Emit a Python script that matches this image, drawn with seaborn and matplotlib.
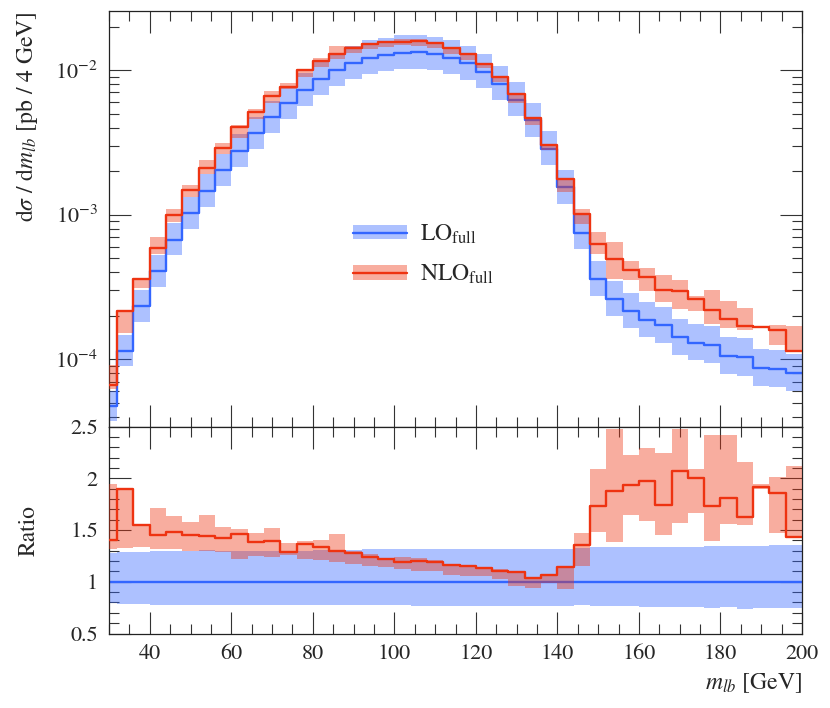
import numpy as np
import matplotlib
matplotlib.use("Agg")
import matplotlib.pyplot as plt
import seaborn as sns
from matplotlib.patches import Patch
from matplotlib.lines import Line2D
from matplotlib.ticker import MultipleLocator, LogLocator, NullFormatter, FuncFormatter

# ---------------- data ----------------
bin_edges = [28, 32, 36, 40, 44, 48, 52, 56, 60, 64, 68, 72, 76, 80, 84, 88, 92, 96,
             100, 104, 108, 112, 116, 120, 124, 128, 132, 136, 140, 144, 148, 152,
             156, 160, 164, 168, 172, 176, 180, 184, 188, 192, 196, 200]

# LO central value  [pb / 4 GeV]
lo_central = [4.73e-5, 1.14e-4, 2.33e-4, 4.06e-4, 6.71e-4, 1.023e-3, 1.46e-3, 2.03e-3,
              2.76e-3, 3.67e-3, 4.73e-3, 5.91e-3, 7.31e-3, 8.69e-3, 1.00e-2, 1.122e-2,
              1.219e-2, 1.273e-2, 1.319e-2, 1.327e-2, 1.292e-2, 1.219e-2, 1.114e-2,
              9.77e-3, 8.03e-3, 6.24e-3, 4.49e-3, 2.85e-3, 1.545e-3, 7.46e-4, 3.61e-4,
              2.62e-4, 2.15e-4, 1.87e-4, 1.72e-4, 1.43e-4, 1.305e-4, 1.257e-4, 1.055e-4,
              1.04e-4, 8.73e-5, 8.55e-5, 8.02e-5]

# LO scale band relative to LO central
lo_band_hi = [1.28, 1.285, 1.29, 1.295, 1.30, 1.30, 1.305, 1.30, 1.30, 1.30, 1.30, 1.30,
              1.30, 1.305, 1.31, 1.31, 1.315, 1.315, 1.315, 1.315, 1.32, 1.32, 1.32, 1.32,
              1.32, 1.32, 1.32, 1.32, 1.32, 1.324, 1.333, 1.333, 1.337, 1.34, 1.34, 1.337,
              1.34, 1.343, 1.343, 1.35, 1.35, 1.356, 1.356]
lo_band_lo = [0.79, 0.786, 0.783, 0.78, 0.78, 0.78, 0.777, 0.777, 0.777, 0.777, 0.775,
              0.775, 0.775, 0.775, 0.775, 0.772, 0.772, 0.772, 0.772, 0.77, 0.77, 0.77,
              0.77, 0.77, 0.77, 0.77, 0.77, 0.77, 0.77, 0.773, 0.764, 0.761, 0.761, 0.757,
              0.757, 0.754, 0.757, 0.751, 0.754, 0.741, 0.751, 0.748, 0.748]

# NLO / LO ratio and NLO scale band relative to LO central
ratio_nlo = [1.405, 1.90, 1.544, 1.447, 1.485, 1.45, 1.44, 1.427, 1.46, 1.388, 1.395,
             1.288, 1.36, 1.337, 1.297, 1.275, 1.24, 1.22, 1.194, 1.204, 1.188, 1.162,
             1.152, 1.133, 1.107, 1.09, 1.039, 1.065, 1.139, 1.353, 1.728, 1.88, 1.932,
             1.977, 1.741, 2.068, 2.003, 1.735, 1.806, 1.625, 1.913, 1.86, 1.43]
nlo_band_hi = [1.945, 1.91, 1.555, 1.715, 1.638, 1.576, 1.644, 1.53, 1.51, 1.47, 1.518,
               1.375, 1.39, 1.40, 1.463, 1.30, 1.265, 1.233, 1.236, 1.227, 1.21, 1.168,
               1.16, 1.142, 1.12, 1.10, 1.05, 1.075, 1.15, 1.469, 2.09, 2.48, 2.22, 2.294,
               2.24, 2.48, 2.094, 2.414, 2.414, 2.16, 1.945, 2.013, 2.12]
nlo_band_lo = [1.32, 1.33, 1.34, 1.314, 1.32, 1.30, 1.30, 1.29, 1.223, 1.25, 1.243, 1.26,
               1.223, 1.214, 1.188, 1.175, 1.15, 1.14, 1.123, 1.107, 1.107, 1.065, 1.06,
               1.055, 1.026, 0.955, 0.935, 0.984, 0.93, 1.155, 1.479, 1.38, 1.647, 1.583,
               1.456, 1.566, 1.663, 1.395, 1.56, 1.544, 1.90, 1.47, 1.42]

labels = [r"LO$_{\mathrm{full}}$", r"NLO$_{\mathrm{full}}$"]

# ---------------- style ----------------
sns.set_style("ticks")
plt.rcParams["font.family"] = ["STIXGeneral", "DejaVu Serif"]
plt.rcParams["mathtext.fontset"] = "stix"
plt.rcParams["axes.linewidth"] = 0.9

C_LO = "#3366FF"
C_NLO = "#EE3311"
BAND_ALPHA = 0.4
LW = 1.7

edges = np.array(bin_edges, dtype=float)
lo = np.array(lo_central)


def ext(a):
    a = np.asarray(a, dtype=float)
    return np.append(a, a[-1])


fig = plt.figure(figsize=(8.30, 7.08), dpi=100)
ax = fig.add_axes([109 / 830, 1 - 426.5 / 708, 693 / 830, 415.5 / 708])
axr = fig.add_axes([109 / 830, 1 - 633.5 / 708, 693 / 830, 207 / 708], sharex=ax)

# ---------------- main panel ----------------
ax.set_yscale("log")
ax.fill_between(edges, ext(lo * np.array(lo_band_lo)), ext(lo * np.array(lo_band_hi)),
                step="post", color=C_LO, alpha=BAND_ALPHA, lw=0, zorder=1)
sns.lineplot(x=edges, y=ext(lo), drawstyle="steps-post", color=C_LO, lw=LW,
             estimator=None, sort=False, ax=ax, zorder=2)
nlo = lo * np.array(ratio_nlo)
ax.fill_between(edges, ext(lo * np.array(nlo_band_lo)), ext(lo * np.array(nlo_band_hi)),
                step="post", color=C_NLO, alpha=BAND_ALPHA, lw=0, zorder=3)
sns.lineplot(x=edges, y=ext(nlo), drawstyle="steps-post", color=C_NLO, lw=LW,
             estimator=None, sort=False, ax=ax, zorder=4)

ax.set_xlim(30, 200)
ax.set_ylim(3.43e-5, 0.0256)
ax.yaxis.set_major_locator(LogLocator(base=10, numticks=20))
ax.yaxis.set_minor_locator(LogLocator(base=10, subs=np.arange(2, 10), numticks=100))
ax.yaxis.set_minor_formatter(NullFormatter())
ax.xaxis.set_major_locator(MultipleLocator(20))
ax.xaxis.set_minor_locator(MultipleLocator(5))
ax.tick_params(axis="x", labelbottom=False)
ax.set_ylabel(r"d$\sigma$ / d$m_{lb}$ [pb / 4 GeV]", fontsize=17, loc="top")
ax.yaxis.set_label_coords(-0.10, 1.0)

h_lo = (Patch(facecolor=C_LO, alpha=BAND_ALPHA, lw=0), Line2D([], [], color=C_LO, lw=LW))
h_nlo = (Patch(facecolor=C_NLO, alpha=BAND_ALPHA, lw=0), Line2D([], [], color=C_NLO, lw=LW))
ax.legend([h_lo, h_nlo], labels, loc="upper left", bbox_to_anchor=(0.321, 0.542),
          frameon=False, fontsize=17, handlelength=2.3, handleheight=0.55,
          handletextpad=0.55, labelspacing=0.72)

# ---------------- ratio panel ----------------
ones = np.ones(len(lo))
axr.fill_between(edges, ext(lo_band_lo), ext(lo_band_hi), step="post", color=C_LO,
                 alpha=BAND_ALPHA, lw=0, zorder=1)
sns.lineplot(x=edges, y=ext(ones), drawstyle="steps-post", color=C_LO, lw=LW,
             estimator=None, sort=False, ax=axr, zorder=2)
axr.fill_between(edges, ext(nlo_band_lo), ext(nlo_band_hi), step="post", color=C_NLO,
                 alpha=BAND_ALPHA, lw=0, zorder=3)
sns.lineplot(x=edges, y=ext(ratio_nlo), drawstyle="steps-post", color=C_NLO, lw=LW,
             estimator=None, sort=False, ax=axr, zorder=4)

axr.set_xlim(30, 200)
axr.set_ylim(0.5, 2.5)
axr.yaxis.set_major_locator(MultipleLocator(0.5))
axr.yaxis.set_minor_locator(MultipleLocator(0.1))
axr.yaxis.set_major_formatter(FuncFormatter(lambda v, p: "%g" % v))
axr.xaxis.set_major_locator(MultipleLocator(20))
axr.xaxis.set_minor_locator(MultipleLocator(5))
axr.set_ylabel("Ratio", fontsize=17)
axr.yaxis.set_label_coords(-0.10, 0.5)
axr.set_xlabel(r"$m_{lb}$ [GeV]", fontsize=17, loc="right")
axr.xaxis.set_label_coords(1.0, -0.18)

for a in (ax, axr):
    a.tick_params(which="both", direction="in", top=True, right=True, width=0.8,
                  color="#333333", labelsize=16)
    a.tick_params(which="major", length=15.5, pad=8)
    a.tick_params(which="minor", length=7)
    for s in a.spines.values():
        s.set_color("#222222")

fig.savefig("out.png", dpi=100)
